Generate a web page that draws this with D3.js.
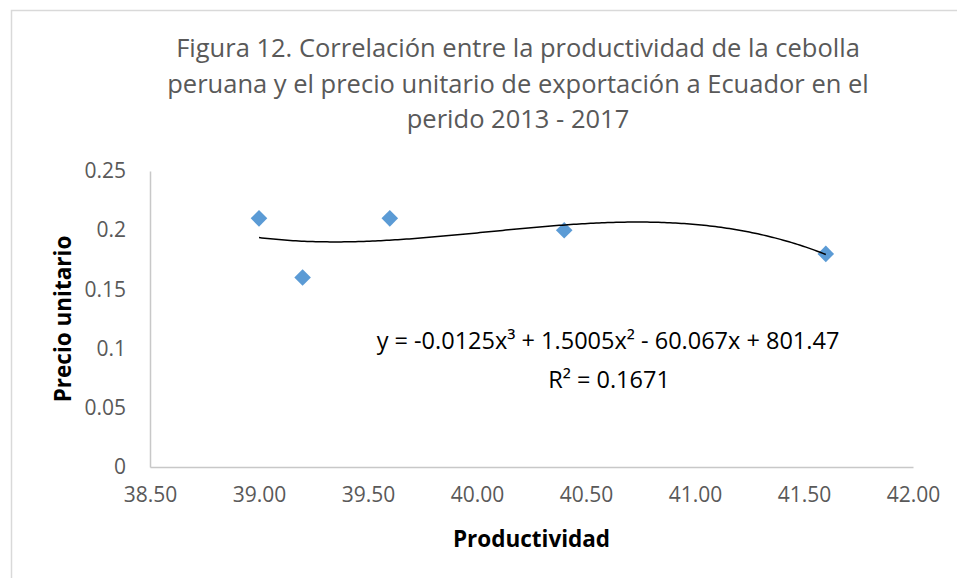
<!DOCTYPE html>
<html>
<head>
<meta charset="utf-8">
<script src="https://cdn.jsdelivr.net/npm/d3@7"></script>
<style>
  body { margin: 0; background: #fff; }
  svg { display: block; font-family: "Open Sans", sans-serif; }
</style>
</head>
<body>
<svg id="chart" width="957" height="578"></svg>
<script>
// Values
const productividad = [39.00, 39.20, 39.60, 40.40, 41.60];
const precioUnitario = [0.21, 0.16, 0.21, 0.20, 0.18];
const xTicks = [38.5, 39.0, 39.5, 40.0, 40.5, 41.0, 41.5, 42.0];
const yTicks = [0, 0.05, 0.1, 0.15, 0.2, 0.25];
const titleLines = [
    "Figura 12. Correlación entre la productividad de la cebolla",
    "peruana y el precio unitario de exportación a Ecuador en el",
    "perido 2013 - 2017"
];
const equationText = ["y = -0.0125x", "³", " + 1.5005x", "²", " - 60.067x + 801.47"];
const r2Text = "R² = 0.1671";

const width = 957;
const height = 578;
const margin = { left: 150, right: 44, top: 171, bottom: 111 };

const svg = d3.select("#chart");

// chart area border (only top and left show in the frame)
svg.append("path")
    .attr("d", `M11.5,${height} L11.5,10.5 L${width},10.5`)
    .attr("fill", "none")
    .attr("stroke", "#d9d9d9")
    .attr("stroke-width", 1.5);

const x = d3.scaleLinear()
    .domain([38.5, 42])
    .range([margin.left, width - margin.right]);

const y = d3.scaleLinear()
    .domain([0, 0.25])
    .range([height - margin.bottom, margin.top]);

// Title
svg.append("text")
    .attr("text-anchor", "middle")
    .attr("fill", "#595959")
    .style("font-size", "25.5px")
    .selectAll("tspan")
    .data(titleLines)
    .join("tspan")
    .attr("x", 518)
    .attr("y", (d, i) => 57 + i * 35.5)
    .text(d => d);

// Axes
const xAxis = d3.axisBottom(x)
    .tickValues(xTicks)
    .tickSize(0)
    .tickPadding(14)
    .tickFormat(d => d.toFixed(2));

const yAxis = d3.axisLeft(y)
    .tickValues(yTicks)
    .tickSize(0)
    .tickPadding(24)
    .tickFormat(d => String(+d.toFixed(2)));

const gx = svg.append("g")
    .attr("transform", `translate(0,${y(0)})`)
    .call(xAxis);

const gy = svg.append("g")
    .attr("transform", `translate(${x(38.5)},0)`)
    .call(yAxis);

for (const g of [gx, gy]) {
    g.select(".domain").attr("stroke", "#c8c8c8").attr("stroke-width", 1.5);
    g.selectAll("text")
        .attr("fill", "#595959")
        .style("font-size", "21px")
        .style("font-family", "\"Open Sans\", sans-serif");
}
gx.selectAll("text").attr("dy", "1.0em");

// Axis titles
svg.append("text")
    .attr("x", (x.range()[0] + x.range()[1]) / 2)
    .attr("y", 547)
    .attr("text-anchor", "middle")
    .style("font-size", "22.5px")
    .style("font-weight", "bold")
    .text("Productividad");

svg.append("text")
    .attr("transform", `translate(71,${(y.range()[0] + y.range()[1]) / 2}) rotate(-90)`)
    .attr("text-anchor", "middle")
    .style("font-size", "22.5px")
    .style("font-weight", "bold")
    .text("Precio unitario");

// Polynomial (order 3) trendline, least squares on the data
function polyFit(xs, ys, order) {
    const mx = d3.mean(xs);
    const n = order + 1;
    const A = Array.from({ length: n }, () => new Array(n + 1).fill(0));
    xs.forEach((xv, k) => {
        const t = xv - mx;
        for (let i = 0; i < n; i++) {
            for (let j = 0; j < n; j++) A[i][j] += Math.pow(t, i + j);
            A[i][n] += ys[k] * Math.pow(t, i);
        }
    });
    for (let c = 0; c < n; c++) {
        let p = c;
        for (let r = c + 1; r < n; r++) if (Math.abs(A[r][c]) > Math.abs(A[p][c])) p = r;
        [A[c], A[p]] = [A[p], A[c]];
        for (let r = 0; r < n; r++) {
            if (r === c) continue;
            const f = A[r][c] / A[c][c];
            for (let k = c; k <= n; k++) A[r][k] -= f * A[c][k];
        }
    }
    const coef = A.map((row, i) => row[n] / row[i]);
    return xv => coef.reduce((s, cf, i) => s + cf * Math.pow(xv - mx, i), 0);
}

const fit = polyFit(productividad, precioUnitario, 3);
const [xMin, xMax] = d3.extent(productividad);
const curvePts = d3.range(0, 201).map(i => xMin + (xMax - xMin) * i / 200);

const line = d3.line()
    .x(d => x(d))
    .y(d => y(fit(d)));

// Points
svg.append("g")
    .selectAll("path")
    .data(productividad)
    .join("path")
    .attr("d", d3.symbol(d3.symbolDiamond2, 175)())
    .attr("transform", (d, i) => `translate(${x(d)},${y(precioUnitario[i])})`)
    .attr("fill", "#5b9bd5");

svg.append("path")
    .datum(curvePts)
    .attr("d", line)
    .attr("fill", "none")
    .attr("stroke", "#000")
    .attr("stroke-width", 1.5);

// Trendline label
svg.append("text")
    .attr("x", 608)
    .attr("y", 349)
    .attr("text-anchor", "middle")
    .style("font-size", "23.5px")
    .selectAll("tspan")
    .data(equationText)
    .join("tspan")
    .text(d => d);

svg.append("text")
    .attr("x", 609)
    .attr("y", 388)
    .attr("text-anchor", "middle")
    .style("font-size", "23.5px")
    .text(r2Text);
</script>
</body>
</html>
